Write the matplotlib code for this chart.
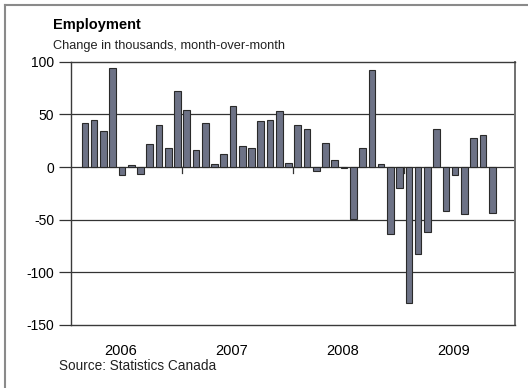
import numpy as np
import pandas as pd
import matplotlib
matplotlib.use('Agg')
import matplotlib.pyplot as plt
from matplotlib.lines import Line2D

plt.rcParams['font.family'] = ['Liberation Sans', 'DejaVu Sans']

# Monthly employment change (thousands), Feb 2006 - Oct 2009
months = pd.period_range('2006-02', '2009-10', freq='M')
change = [42, 44.3, 34.2, 94, -7.9, 1.6, -7, 22, 40, 18.4, 72.5,
          53.8, 16, 41.8, 2.8, 12.3, 57.6, 20.3, 18.4, 43.7, 44.6, 52.8, 4.1,
          39.6, 36, -4.1, 23, 7, -1, -49, 17.7, 92.4, 2.5, -63.3, -20,
          -129.4, -82.9, -61.4, 36, -41.8, -7.3, -44.6, 27.2, 30.7, -43.3]
years = [2006, 2007, 2008, 2009]
yticks = [100, 50, 0, -50, -100, -150]

# x position = months since Jan of first year
start = pd.Period('2006-01', freq='M')
x = np.array([(m - start).n for m in months])

fig = plt.figure(figsize=(5.28, 3.88), dpi=100)
ax = fig.add_axes([0.1345, 0.1624, 0.8415, 0.6786])

ax.bar(x, change, width=0.72, color='#6d7286', edgecolor='#2a2a2a', linewidth=0.8, zorder=3)

ax.set_xlim(-0.5, len(years) * 12 - 0.5)
ax.set_ylim(-150, 100)

for y in yticks[1:-1]:
    ax.axhline(y, color='#333333', linewidth=0.9, zorder=1)

# small year-boundary ticks hanging from the zero line
for i in range(1, len(years)):
    b = i * 12 - 0.5
    ax.plot([b, b], [0, -6], color='#333333', linewidth=0.9, zorder=2)

ax.set_yticks(yticks)
ax.set_yticklabels([str(v) for v in yticks], fontsize=10)
ax.tick_params(axis='y', length=9, width=0.9, color='#333333', pad=3)
ax.set_xticks([i * 12 + 5.5 - 0.65 for i in range(len(years))])
ax.set_xticklabels([str(y) for y in years], fontsize=10.5)
ax.tick_params(axis='x', length=0, pad=13.5)

for s in ax.spines.values():
    s.set_color('#3a3a3a')
    s.set_linewidth(1.0)
ax.spines['right'].set_color('#707070')
ax.spines['right'].set_linewidth(1.4)

fig.text(53 / 528, 1 - 25 / 388, 'Employment', fontsize=10.5, fontweight='bold', va='center', ha='left')
fig.text(53 / 528, 1 - 45.5 / 388, 'Change in thousands, month-over-month', fontsize=9.2,
         va='center', ha='left', color='#222222')
fig.text(59 / 528, 1 - 366 / 388, 'Source: Statistics Canada', fontsize=9.8,
         va='center', ha='left', color='#222222')

# outer frame (left and top edges)
fig.add_artist(Line2D([5 / 528, 5 / 528], [0, 1 - 4.5 / 388], color='#8a8a8a', linewidth=1.5))
fig.add_artist(Line2D([5 / 528, 1], [1 - 4.5 / 388, 1 - 4.5 / 388], color='#8a8a8a', linewidth=1.5))

fig.savefig('out.png', dpi=100)
